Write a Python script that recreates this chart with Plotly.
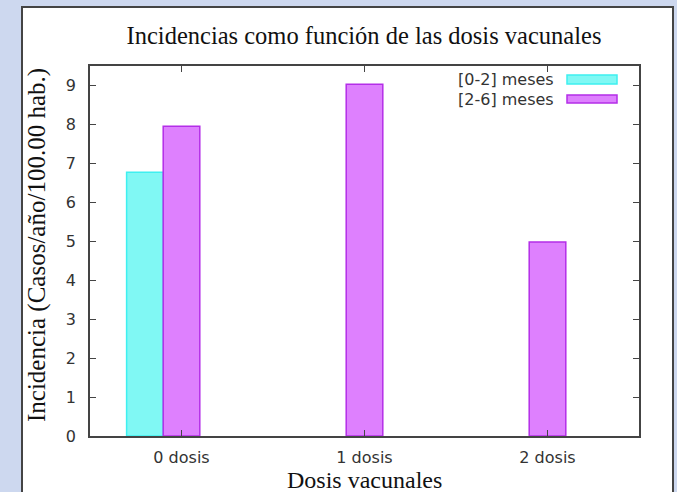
import plotly.graph_objects as go

categories = ["0 dosis", "1 dosis", "2 dosis"]
serie_0_2 = [6.77, None, None]
serie_2_6 = [7.95, 9.03, 4.98]
series_names = ["[0-2] meses", "[2-6] meses"]
y_ticks = [0, 1, 2, 3, 4, 5, 6, 7, 8, 9]

cyan_fill, cyan_line = "#80f8f4", "#3ef0f0"
mag_fill, mag_line = "#de80fe", "#b42ee8"

fig = go.Figure()
fig.add_trace(go.Bar(x=categories, y=serie_0_2, name=series_names[0], width=0.2, offset=-0.3,
                     marker=dict(color=cyan_fill, line=dict(color=cyan_line, width=1.5)), showlegend=False))
fig.add_trace(go.Bar(x=categories, y=serie_2_6, name=series_names[1], width=0.2, offset=-0.1,
                     marker=dict(color=mag_fill, line=dict(color=mag_line, width=1.5)), showlegend=False))

L, R, T, B = 90, 639, 66, 436
W, H = 677, 492
pw, ph = R - L, B - T
def px(x): return (x - L) / pw
def py(y): return (B - y) / ph

shapes = [
    dict(type="rect", xref="paper", yref="paper", x0=px(22), x1=px(673), y0=py(560), y1=py(7),
         fillcolor="white", line=dict(color="#444444", width=2), layer="below"),
]
annotations = []
legend_rows = [(75, 84, cyan_fill, cyan_line), (95, 103, mag_fill, mag_line)]
for name, (y0, y1, fc, lc) in zip(series_names, legend_rows):
    shapes.append(dict(type="rect", xref="paper", yref="paper", x0=px(567), x1=px(617), y0=py(y1), y1=py(y0),
                       fillcolor=fc, line=dict(color=lc, width=1.5)))
    annotations.append(dict(xref="paper", yref="paper", x=px(556), y=py((y0 + y1) / 2), text=name,
                            xanchor="right", yanchor="middle", showarrow=False,
                            font=dict(family="DejaVu Sans", size=16, color="#333333")))

annotations.append(dict(xref="paper", yref="paper", x=px(364), y=py(480), text="Dosis vacunales",
                        xanchor="center", yanchor="middle", showarrow=False,
                        font=dict(family="Liberation Serif", size=24, color="#111111")))
annotations.append(dict(xref="paper", yref="paper", x=px(37), y=py(245), text="Incidencia (Casos/año/100.00 hab.)",
                        textangle=-90, xanchor="center", yanchor="middle", showarrow=False,
                        font=dict(family="Liberation Serif", size=25, color="#111111")))

fig.update_layout(
    width=W, height=H,
    margin=dict(l=L, r=W - R, t=T, b=H - B),
    paper_bgcolor="#cdd8ef", plot_bgcolor="white",
    barmode="overlay",
    title=dict(text="Incidencias como función de las dosis vacunales", x=364 / W,
               xanchor="center", y=1 - 35 / H, yanchor="middle",
               font=dict(family="Liberation Serif", size=24.5, color="#111111")),
    shapes=shapes, annotations=annotations,
    xaxis=dict(type="category", range=[-0.5, 2.5], showgrid=False, showline=True, mirror="allticks",
               linecolor="#444444", linewidth=1.5, ticks="inside", ticklen=6, tickcolor="#444444",
               ticklabelstandoff=6,
               tickfont=dict(family="DejaVu Sans", size=16, color="#333333")),
    yaxis=dict(range=[0, 9.5], tickvals=y_ticks, showgrid=False, showline=True, mirror="allticks",
               linecolor="#444444", linewidth=1.5, ticks="inside", ticklen=6, tickcolor="#444444",
               zeroline=False, ticklabelstandoff=9,
               tickfont=dict(family="DejaVu Sans", size=16, color="#333333")),
)

fig.write_html("out.html", config={"displayModeBar": False},
               post_script="document.body.style.margin='0';")
